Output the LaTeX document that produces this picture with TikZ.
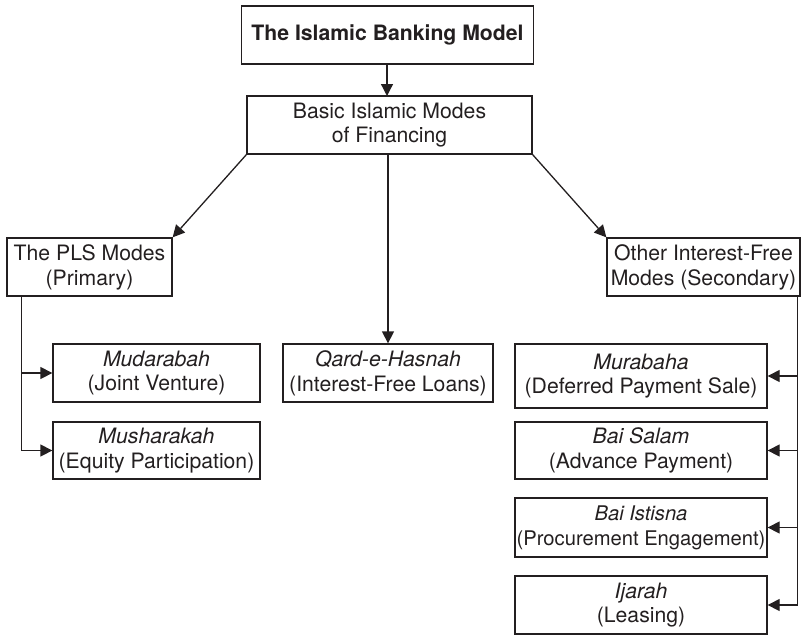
\documentclass[tikz,border=0pt]{standalone}
\usepackage{fontspec}
\setmainfont{TeX Gyre Heros}
\usepackage{tikz}
\usetikzlibrary{arrows.meta,positioning}
\definecolor{ink}{RGB}{35,31,32}

\begin{document}
\begin{tikzpicture}[
  x=0.5pt, y=-0.5pt,
  box/.style={rectangle, draw=ink, line width=0.65pt, align=center,
              inner sep=0pt, minimum height=29pt, text=ink,
              font=\fontsize{10.6}{12.4}\selectfont},
  lbox/.style={box, minimum width=103.5pt},
  rbox/.style={box, minimum width=126pt},
  arr/.style={-{Triangle[length=6pt, width=6pt]}, line width=0.65pt, color=ink}
]
\useasboundingbox (0,0) rectangle (801,637);
% ── TOP ─────────────
\node[box, minimum width=146pt] (model) at (387.5,35)
  {\textbf{The Islamic Banking Model}};
\node[box, minimum width=142.5pt] (basic) at (389.5,125)
  {Basic Islamic Modes\\of Financing};
\draw[arr] (model.south -| 387,0) -- (387,96);

% ── LEFT: PLS modes ─────────────
\node[box, minimum width=82.5pt] (pls) at (89.5,267)
  {The PLS Modes\\(Primary)};
\node[lbox] (mud) at (156.5,373)
  {\textit{Mudarabah}\\(Joint Venture)};
\node[lbox, minimum height=28.5pt] (mush) at (156.5,450.5)
  {\textit{Musharakah}\\(Equity Participation)};
\draw[arr] (basic.south west) -- (pls.north east);
\draw[arr] ([xshift=7.5pt]pls.south west) |- (mud.west);
\draw[arr] ([xshift=7.5pt]pls.south west) |- (mush.west);

% ── MIDDLE: Qard ─────────────
\node[box, minimum width=105pt] (qard) at (388,373)
  {\textit{Qard-e-Hasnah}\\(Interest-Free Loans)};
\draw[arr] (qard.north |- basic.south) -- (qard.north);

% ── RIGHT: other modes ─────────────
\node[box, minimum width=96.5pt] (other) at (703.5,267)
  {Other Interest-Free\\Modes (Secondary)};
\node[rbox, minimum height=32pt] (mura) at (641,376)
  {\textit{Murabaha}\\(Deferred Payment Sale)};
\node[rbox, minimum height=28.5pt] (salam) at (641,450.5)
  {\textit{Bai Salam}\\(Advance Payment)};
\node[rbox, minimum height=29.5pt, font=\fontsize{10.1}{12.4}\selectfont] (istisna) at (641,527.5)
  {\textit{Bai Istisna}\\(Procurement Engagement)};
\node[rbox] (ijarah) at (641,605)
  {\textit{Ijarah}\\(Leasing)};
\draw[arr] (basic.south east) -- (other.north west);
\draw[arr] ([xshift=-1.5pt]other.south east) |- (mura.east);
\draw[arr] ([xshift=-1.5pt]other.south east) |- (salam.east);
\draw[arr] ([xshift=-1.5pt]other.south east) |- (istisna.east);
\draw[arr] ([xshift=-1.5pt]other.south east) |- (ijarah.east);
\end{tikzpicture}
\end{document}
